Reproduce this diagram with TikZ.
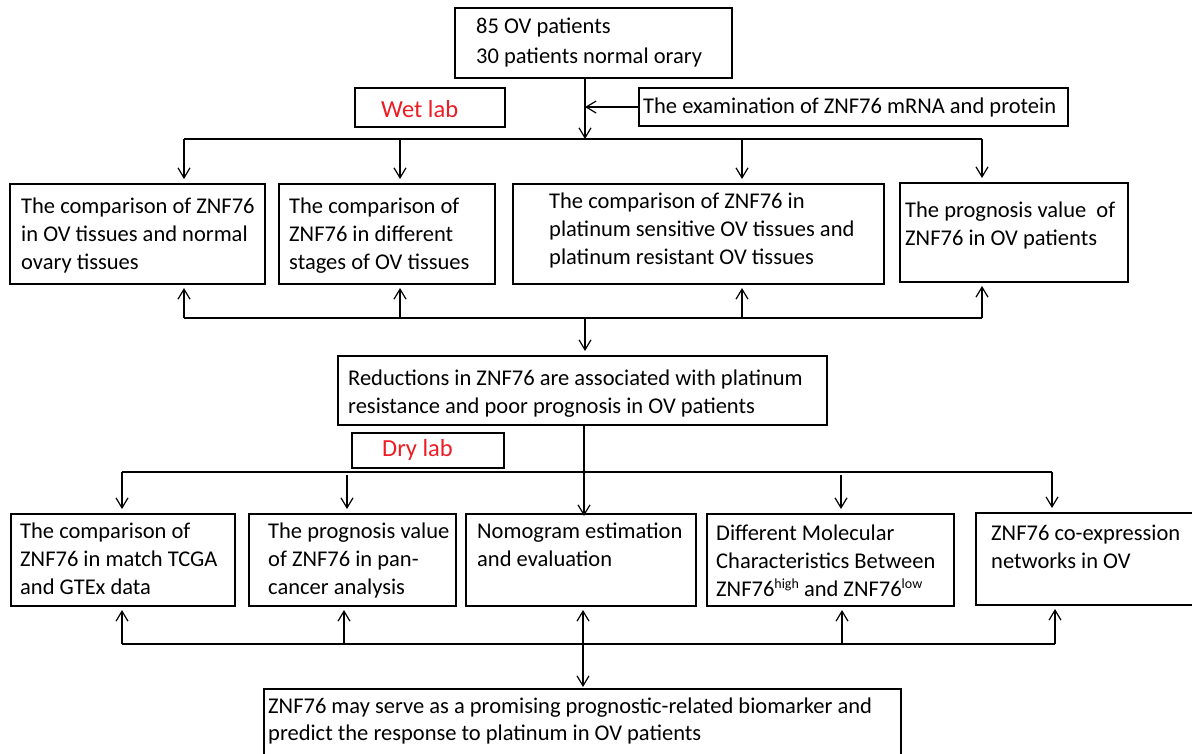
\documentclass[tikz,border=0pt]{standalone}
\usepackage{fontspec}
\setmainfont{Carlito}
\usetikzlibrary{arrows.meta}
\definecolor{labred}{RGB}{237,28,36}
\newcommand{\sups}[1]{\raisebox{8pt}{\fontsize{14}{14}\selectfont #1}}
\begin{document}
\begin{tikzpicture}[x=1pt,y=-1pt,
  bx/.style={draw, line width=2pt, inner sep=0pt, anchor=north west},
  tx/.style={anchor=base west, align=left, inner sep=0pt, font=\fontsize{22.5}{28}\selectfont},
  rd/.style={anchor=base west, inner sep=0pt, text=labred, font=\fontsize{24.5}{28}\selectfont},
  tip/.tip={Straight Barb[length=10pt,width=12pt]},
  arr/.style={line width=1.2pt, -tip},
  uarr/.style={line width=1.2pt, -tip, shorten >=3pt},
  darr/.style={line width=1.2pt, -tip, shorten >=4pt},
  bus/.style={line width=2pt}]
\useasboundingbox (0,0) rectangle (1192,753);

% ---------- boxes ----------
\node[bx, minimum width=277pt, minimum height=70pt] (top) at (454,7) {};
\node[bx, minimum width=150pt, minimum height=39pt] (wet) at (354,87) {};
\node[bx, minimum width=429pt, minimum height=38pt] (ex) at (638,87) {};
\node[bx, minimum width=255pt, minimum height=100pt] (b1) at (9,183) {};
\node[bx, minimum width=216pt, minimum height=100pt] (b2) at (278,183) {};
\node[bx, minimum width=371pt, minimum height=100pt] (b3) at (512,183) {};
\node[bx, minimum width=228pt, minimum height=99pt] (b4) at (899,182) {};
\node[bx, minimum width=489pt, minimum height=69pt] (red) at (337,355) {};
\node[bx, minimum width=152pt, minimum height=35pt] (dry) at (351,432) {};
\node[bx, minimum width=224pt, minimum height=92pt] (cA) at (10,513) {};
\node[bx, minimum width=207pt, minimum height=92pt] (cB) at (248,513) {};
\node[bx, minimum width=230pt, minimum height=92pt] (cC) at (465,513) {};
\node[bx, minimum width=247pt, minimum height=92pt] (cD) at (706,513) {};
\node[bx, minimum width=230pt, minimum height=92pt] (cE) at (975,512) {};
\node[bx, minimum width=637pt, minimum height=72pt] (fin) at (263,688) {};

% ---------- texts (anchored at the baseline of the last line) ----------
\node[tx, font=\fontsize{22.5}{30}\selectfont] (ttop) at (476,63) {85 OV patients\\30 patients normal orary};
\node[rd] (twet) at (381,117) {Wet lab};
\node[tx] (tex) at (643,113) {The examination of ZNF76 mRNA and protein};
\node[tx] (t1) at (21,269) {The comparison of ZNF76\\in OV tissues and normal\\ovary tissues};
\node[tx] (t2) at (289,269) {The comparison of\\ZNF76 in different\\stages of OV tissues};
\node[tx] (t3) at (549,264) {The comparison of ZNF76 in\\platinum sensitive OV tissues and\\platinum resistant OV tissues};
\node[tx] (t4) at (905,245) {The prognosis value \ of\\ZNF76 in OV patients};
\node[tx] (tred) at (348,413) {Reductions in ZNF76 are associated with platinum\\resistance and poor prognosis in OV patients};
\node[rd] (tdry) at (382,456) {Dry lab};
\node[tx] (tA) at (20,594) {The comparison of\\ZNF76 in match TCGA\\and GTEx data};
\node[tx] (tB) at (268,594) {The prognosis value\\of ZNF76 in pan-\\cancer analysis};
\node[tx] (tC) at (477,566) {Nomogram estimation\\and evaluation};
\node[tx] (tD) at (716,596) {Different Molecular\\Characteristics Between\\ZNF76\sups{high} and ZNF76\sups{low}};
\node[tx] (tE) at (991,568) {ZNF76 co-expression\\networks in OV};
\node[tx, font=\fontsize{22.5}{27}\selectfont] (tfin) at (268,740) {ZNF76 may serve as a promising prognostic-related biomarker and\\predict the response to platinum in OV patients};

% ---------- connector coordinates ----------
\coordinate (v1) at (585,139);
\coordinate (j1) at (585,107);
\coordinate (p1) at (184,139);
\coordinate (p2) at (400,139);
\coordinate (p3) at (742,139);
\coordinate (p4) at (982,139);
\coordinate (q1) at (184,318);
\coordinate (q2) at (400,318);
\coordinate (q3) at (742,318);
\coordinate (q4) at (982,318);
\coordinate (qm) at (585,318);
\coordinate (r1) at (122,472);
\coordinate (r2) at (347,475);
\coordinate (r3) at (584,472);
\coordinate (r4) at (841,475);
\coordinate (r5) at (1052,472);
\coordinate (s1) at (122,644);
\coordinate (s2) at (344,644);
\coordinate (s3) at (583,644);
\coordinate (s4) at (842,644);
\coordinate (s5) at (1055,644);

% ---------- top part ----------
\draw[arr] (v1 |- top.south) -- (v1);
\draw[arr] (ex.west |- j1) -- (j1);
\draw[bus] (p1) -- (p4);
\draw[darr] (p1) -- (p1 |- b1.north);
\draw[darr] (p2) -- (p2 |- b2.north);
\draw[darr] (p3) -- (p3 |- b3.north);
\draw[darr] (p4) -- (p4 |- b4.north);

% ---------- feedback of row 2 ----------
\draw[bus] (q1) -- (q4);
\draw[uarr] (q1) -- (q1 |- b1.south);
\draw[uarr] (q2) -- (q2 |- b2.south);
\draw[uarr] (q3) -- (q3 |- b3.south);
\draw[uarr] (q4) -- (q4 |- b4.south);
\draw[darr] (qm) -- (qm |- red.north);

% ---------- dry lab ----------
\draw[bus] (r1) -- (r5);
\draw[arr] (r3 |- red.south) -- ([yshift=-3pt]r3 |- cC.north);
\draw[darr] (r1) -- (r1 |- cA.north);
\draw[darr] (r2) -- (r2 |- cB.north);
\draw[darr] (r4) -- (r4 |- cD.north);
\draw[darr] (r5) -- (r5 |- cE.north);

% ---------- feedback of row 3 ----------
\draw[bus] (s1) -- (s5);
\draw[uarr] (s1) -- (s1 |- cA.south);
\draw[uarr] (s2) -- (s2 |- cB.south);
\draw[uarr] (s4) -- (s4 |- cD.south);
\draw[uarr] (s5) -- (s5 |- cE.south);
\draw[line width=1.2pt, tip-tip, shorten >=1pt, shorten <=3pt] (s3 |- cC.south) -- (s3 |- fin.north);
\end{tikzpicture}
\end{document}
